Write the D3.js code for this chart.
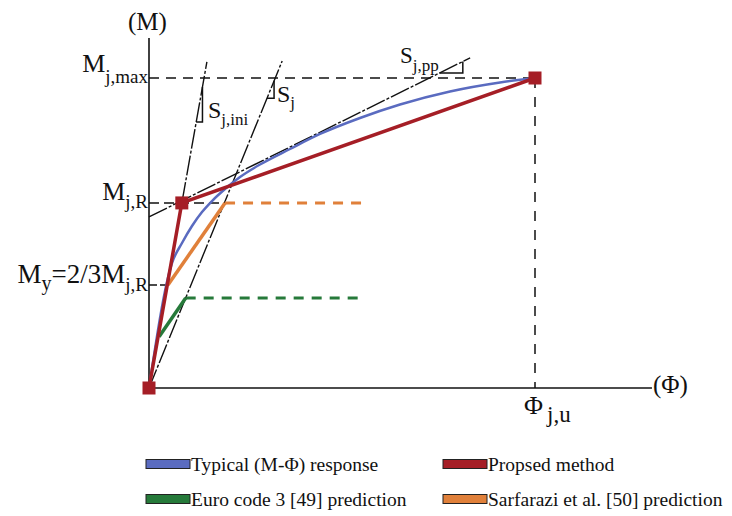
<!DOCTYPE html>
<html>
<head>
<meta charset="utf-8">
<script src="https://cdn.jsdelivr.net/npm/d3@7"></script>
<style>
  body { margin: 0; background: #fff; }
  text { font-family: "Liberation Serif", "Times New Roman", serif; fill: #111; }
</style>
</head>
<body>
<div id="vis"></div>
<script>
const svgWidth = 732;
const svgHeight = 516;

// values in chart units: rotation phi (0..100 = phi_j,u), moment M (0..100 = M_j,max)
const typicalCurve = [
  [0, 0], [5.96, 40.32], [8.55, 46.77], [11.14, 52.26], [13.73, 56.77], [16.32, 60.32],
  [19.69, 64.19], [23.58, 68.06], [28.76, 72.1], [36.53, 77.1], [44.3, 81.94], [54.66, 87.1],
  [65.03, 91.45], [77.98, 95.65], [90.93, 98.55], [100, 100]
];
const proposedLine = [[0, 0], [8.5, 59.7], [100, 100]];
const eurocodeLine = [[2.6, 16.5], [9.5, 29]];
const eurocodePlateau = [[9.5, 29], [55.4, 29]];
const sarfaraziLine = [[4.9, 33.2], [19.7, 59.7]];
const sarfaraziPlateau = [[19.7, 59.7], [56.7, 59.7]];
const markerPoints = [[0, 0], [8.5, 59.7], [100, 100]];

const stiffnessSjIni = [[0, 0], [15.0, 105.2]];
const stiffnessSj = [[0, 0], [34.5, 105.5]];
const stiffnessSjPP = [[0, 55.2], [83.2, 106.5]];

// little slope triangles [lower M, upper phi]
const triSjIni = [85.8, 13.85];
const triSj = [93.5, 32.4];
const triSjPP = [101.6, 81.3];

const Mmax = 100, MjR = 59.7, My = 33.2, phiU = 100;
const axisEnd = { phi: 130.3, M: 112.9 };

const legendItems = [
  { label: 'Typical (M-\u03A6) response', color: '#5a6bc0' },
  { label: 'Propsed method', color: '#a51e26' },
  { label: 'Euro code 3 [49] prediction', color: '#267a3a' },
  { label: 'Sarfarazi et al. [50] prediction', color: '#e0803a' }
];

const svg = d3.select('#vis').append('svg').attr('width', svgWidth).attr('height', svgHeight);

const x = d3.scaleLinear().domain([0, 100]).range([149, 535]);
const y = d3.scaleLinear().domain([0, 100]).range([388, 78]);

const line = d3.line().x((d) => x(d[0])).y((d) => y(d[1]));
const smooth = d3.line().x((d) => x(d[0])).y((d) => y(d[1])).curve(d3.curveMonotoneX);

// axes
svg.append('line').attr('x1', x(0)).attr('y1', y(0)).attr('x2', x(0)).attr('y2', y(axisEnd.M))
  .attr('stroke', '#111').attr('stroke-width', 1.6);
svg.append('line').attr('x1', x(0)).attr('y1', y(0)).attr('x2', x(axisEnd.phi)).attr('y2', y(0))
  .attr('stroke', '#111').attr('stroke-width', 1.6);

// reference dashes
const dash = (x1, y1, x2, y2, color, w, da) =>
  svg.append('line').attr('x1', x(x1)).attr('y1', y(y1)).attr('x2', x(x2)).attr('y2', y(y2))
    .attr('stroke', color).attr('stroke-width', w).attr('stroke-dasharray', da);

dash(0, Mmax, phiU, Mmax, '#111', 1.5, '10,7');
dash(phiU, Mmax, phiU, 0, '#111', 1.5, '10,9');
dash(0, MjR, sarfaraziPlateau[0][0], MjR, '#111', 1.5, '10,5');
dash(0, My, sarfaraziLine[0][0], My, '#111', 1.5, '8,3');

// stiffness lines
const stiffStyle = (data) => svg.append('path').datum(data).attr('d', line)
  .attr('fill', 'none').attr('stroke', '#111').attr('stroke-width', 1.4)
  .attr('stroke-dasharray', '20,2,3,2');
stiffStyle(stiffnessSjIni);
stiffStyle(stiffnessSj);
stiffStyle(stiffnessSjPP);

// slope triangles built off each line
function slopeTriangle(l, tri) {
  const [p0, p1] = l;
  const k = (p1[1] - p0[1]) / (p1[0] - p0[0]);
  const phiLow = p0[0] + (tri[0] - p0[1]) / k;
  const mHigh = p0[1] + k * (tri[1] - p0[0]);
  svg.append('path').datum([[phiLow, tri[0]], [tri[1], tri[0]], [tri[1], mHigh]])
    .attr('d', line).attr('fill', 'none').attr('stroke', '#111').attr('stroke-width', 1.5);
}
slopeTriangle(stiffnessSjIni, triSjIni);
slopeTriangle(stiffnessSj, triSj);
slopeTriangle(stiffnessSjPP, triSjPP);

// curves
const curve = (data, color, w, da, gen) => svg.append('path').datum(data).attr('d', gen || line)
  .attr('fill', 'none').attr('stroke', color).attr('stroke-width', w)
  .attr('stroke-dasharray', da || null);

curve(eurocodePlateau, legendItems[2].color, 3, '10,8');
curve(sarfaraziPlateau, legendItems[3].color, 3, '10,8');
curve(eurocodeLine, legendItems[2].color, 3.5);
curve(sarfaraziLine, legendItems[3].color, 3.5);
curve(typicalCurve, legendItems[0].color, 2.5, null, smooth);
curve(proposedLine, legendItems[1].color, 3.5);

svg.selectAll('rect.marker').data(markerPoints).join('rect').attr('class', 'marker')
  .attr('x', (d) => x(d[0]) - 6.5).attr('y', (d) => y(d[1]) - 6.5)
  .attr('width', 13).attr('height', 13).attr('fill', legendItems[1].color);

// labels
function label(xp, yp, parts, anchor) {
  const t = svg.append('text').attr('x', xp).attr('y', yp).attr('text-anchor', anchor || 'start');
  parts.forEach(([s, size, dy, dx]) => t.append('tspan').attr('font-size', size).attr('dy', dy)
    .attr('dx', dx || 0).text(s));
  return t;
}
label(128, 30, [['(M)', 25, 0]]);
label(653, 393, [['(\u03A6)', 25, 0]]);
label(148, 72, [['M', 26, 0], ['j,max', 19, 11]], 'end');
label(148, 200, [['M', 26, 0], ['j,R', 19, 8]], 'end');
label(148, 283, [['M', 27, 0], ['y', 20, 7], ['=2/3M', 27, -7], ['j,R', 19, 8]], 'end');
label(208, 118, [['S', 24, 0], ['j,ini', 17, 7]]);
label(277, 102, [['S', 24, 0], ['j', 17, 6]]);
label(400, 63, [['S', 23, 0], ['j,pp', 17, 8]]);
label(524, 414, [['\u03A6', 26, 0], ['j,u', 23, 8, 4]]);

// legend
const legendX = [146, 443];
const legendY = [464, 499];
legendItems.forEach((d, i) => {
  const lx = legendX[i % 2], ly = legendY[Math.floor(i / 2)];
  svg.append('rect').attr('x', lx).attr('y', ly - 4.5).attr('width', 44).attr('height', 9)
    .attr('fill', d.color).attr('stroke', '#222').attr('stroke-width', 1);
  svg.append('text').attr('x', lx + 45).attr('y', ly + 6.5).attr('font-size', 19.5).text(d.label);
});
</script>
</body>
</html>
